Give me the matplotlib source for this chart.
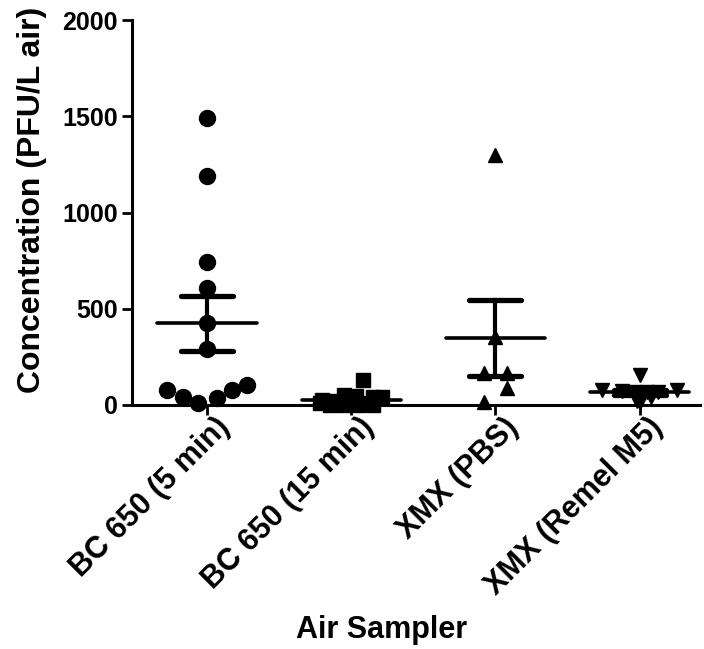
import numpy as np
import matplotlib
matplotlib.use("Agg")
import matplotlib.pyplot as plt
from matplotlib.transforms import ScaledTranslation

plt.rcParams['font.family'] = ['Liberation Sans', 'DejaVu Sans']
plt.rcParams['font.weight'] = 'bold'

groups = ['BC 650 (5 min)', 'BC 650 (15 min)', 'XMX (PBS)', 'XMX (Remel M5)']
markers = ['o', 's', '^', 'v']

# concentration values (PFU/L air), with horizontal spread
bc5_vals = [1490, 1190, 745, 610, 426, 291, 80, 40, 10, 38, 80, 105]
bc5_dx = [0, 0, 0, 0, 0, 0, -0.28, -0.17, -0.06, 0.07, 0.17, 0.28]

bc15_vals = [130, 50, 45, 40, 40, 25, 20, 10, 5, 0, 0, 0, 0]
bc15_dx = [0.08, -0.05, 0.03, 0.15, 0.21, -0.2, -0.12, -0.22, 0.1, -0.05, 0.05, -0.15, 0.15]

pbs_vals = [1300, 353, 166, 166, 88, 16]
pbs_dx = [0, 0, -0.08, 0.08, 0.08, -0.08]

m5_vals = [156, 78, 78, 72, 70, 68, 65, 40, 20, 15]
m5_dx = [0, -0.26, 0.26, -0.12, -0.04, 0.05, 0.13, 0.08, -0.02, 0.0]

all_vals = [bc5_vals, bc15_vals, pbs_vals, m5_vals]
all_dx = [bc5_dx, bc15_dx, pbs_dx, m5_dx]

fig = plt.figure(figsize=(7.04, 6.49), dpi=100)
ax = fig.add_axes([0.1875, 0.376, 0.807, 0.593])

for i, (vals, dx) in enumerate(zip(all_vals, all_dx)):
    pos = i + 1
    v = np.array(vals, dtype=float)
    mean = v.mean()
    sem = v.std(ddof=1) / np.sqrt(len(v))
    # mean line and SEM bars
    ax.plot([pos - 0.345, pos + 0.345], [mean, mean], color='black', lw=2.6,
            solid_capstyle='round', zorder=2)
    ax.plot([pos, pos], [mean - sem, mean + sem], color='black', lw=3,
            zorder=2)
    for y in (mean - sem, mean + sem):
        ax.plot([pos - 0.18, pos + 0.18], [y, y], color='black', lw=3.8,
                solid_capstyle='round', zorder=2)
    ms = 11.5 if markers[i] == 'o' else 10.5
    ax.plot(pos + np.array(dx), v, linestyle='none', marker=markers[i],
            color='black', markersize=ms, clip_on=False, zorder=3)

ax.set_xlim(0.479, 4.42)
ax.set_ylim(0, 2000)
ax.set_yticks([0, 500, 1000, 1500, 2000])
ax.set_xticks([1, 2, 3, 4])
ax.set_xticklabels([])
ax.tick_params(axis='y', labelsize=18, width=2, length=7, pad=3)
ax.tick_params(axis='x', width=2, length=7)
for lab in ax.get_yticklabels():
    lab.set_fontweight('bold')

# rotated category labels, anchored a little right of each tick
offset = ScaledTranslation(18 / 100, -18 / 100, fig.dpi_scale_trans)
for i, name in enumerate(groups):
    ax.text(i + 1, 0, name, transform=ax.get_xaxis_transform() + offset,
            rotation=45, rotation_mode='anchor', ha='right', va='center',
            fontsize=22, fontweight='bold')

ax.spines['top'].set_visible(False)
ax.spines['right'].set_visible(False)
ax.spines['left'].set_linewidth(2.2)
ax.spines['bottom'].set_linewidth(2.2)

ax.set_ylabel('Concentration (PFU/L air)', fontsize=23, fontweight='bold')
ax.yaxis.set_label_coords(-0.149, 0.532)
ax.set_xlabel('Air Sampler', fontsize=22, fontweight='bold')
ax.xaxis.set_label_coords(0.44, -0.545)

fig.savefig('out.png', dpi=100)
